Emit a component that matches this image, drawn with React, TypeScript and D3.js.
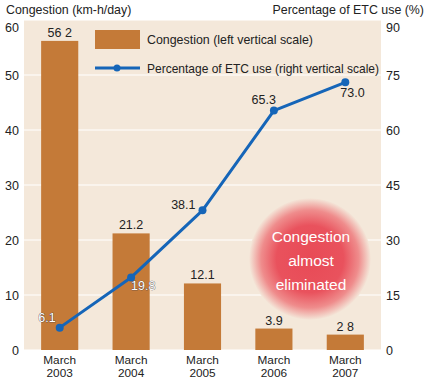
import React from "react";
import * as d3 from "d3";

const categories = ["March\n2003", "March\n2004", "March\n2005", "March\n2006", "March\n2007"];
const congestion = [56.2, 21.2, 12.1, 3.9, 2.8];
const congestionLabels = ["56 2", "21.2", "12.1", "3.9", "2 8"];
const etcUse = [6.1, 19.8, 38.1, 65.3, 73.0];
const etcLabels = ["6.1", "19.8", "38.1", "65.3", "73.0"];
const leftTicks = [0, 10, 20, 30, 40, 50, 60];
const rightTicks = [0, 15, 30, 45, 60, 75, 90];

const W = 428, H = 386;
const L = 24, R = 381, T = 20, B = 350;
const FONT = "'Liberation Sans', Arial, sans-serif";
const BAR = "#c47a38";
const BLUE = "#1565b8";
const BG = "#f4e8da";

// label offsets for ETC labels [dx, dy, anchor, light]
const etcLabelPos: [number, number, string, boolean][] = [
  [-4, -6, "end", true],
  [0, 13, "start", true],
  [-7, -1, "end", false],
  [2, -7, "end", false],
  [-5, 15, "start", false],
];

export default function App() {
  const x = d3.scaleBand<number>().domain(d3.range(categories.length)).range([L, R]).paddingInner(0.48).paddingOuter(0.24);
  const yL = d3.scaleLinear().domain([0, 60]).range([B, T]);
  const yR = d3.scaleLinear().domain([0, 90]).range([B, T]);
  const cx = (i: number) => (x(i) as number) + x.bandwidth() / 2;
  const line = d3.line<number>().x((_, i) => cx(i)).y((d) => yR(d));
  const tickY = (y: number) => Math.max(y, T + 7) + 4.5;

  return (
    <svg width={W} height={H} style={{ position: "absolute", left: 0, top: 0 }} fontFamily={FONT}>
      <defs>
        <radialGradient id="blob" cx="50%" cy="50%" r="50%">
          <stop offset="0%" stopColor="#e84a56" />
          <stop offset="55%" stopColor="#e9525d" />
          <stop offset="80%" stopColor="#ef8c8c" />
          <stop offset="100%" stopColor={BG} />
        </radialGradient>
      </defs>
      <rect x={0} y={0} width={W} height={H} fill="#fff" />
      <rect x={L} y={T} width={R - L} height={B - T} fill={BG} />
      {leftTicks.map((t) => (
        <line key={t} x1={L} x2={R} y1={yL(t)} y2={yL(t)} stroke="#fff" strokeWidth={1.2} />
      ))}
      {leftTicks.map((t) => (
        <text key={t} x={19} y={tickY(yL(t))} textAnchor="end" fontSize={12.5} fill="#222">{t}</text>
      ))}
      {rightTicks.map((t) => (
        <text key={t} x={386} y={tickY(yR(t))} textAnchor="start" fontSize={12.5} fill="#222">{t}</text>
      ))}
      <text x={6} y={14} fontSize={12.4} fill="#222">Congestion (km-h/day)</text>
      <text x={424} y={14} fontSize={12.4} fill="#222" textAnchor="end">Percentage of ETC use (%)</text>
      {/* blob */}
      <circle cx={310} cy={259} r={61} fill="url(#blob)" />
      <text x={311} y={242} textAnchor="middle" fontSize={15.5} fill="#fff">Congestion</text>
      <text x={311} y={266} textAnchor="middle" fontSize={15.5} fill="#fff">almost</text>
      <text x={311} y={290} textAnchor="middle" fontSize={15.5} fill="#fff">eliminated</text>
      {congestion.map((v, i) => (
        <rect key={i} x={x(i)} y={yL(v)} width={x.bandwidth()} height={B - yL(v)} fill={BAR} />
      ))}
      {congestion.map((v, i) => (
        <text key={i} x={cx(i)} y={yL(v) - 4} textAnchor="middle" fontSize={12.5} fill="#222">{congestionLabels[i]}</text>
      ))}
      {categories.map((c, i) => (
        <text key={i} x={cx(i)} textAnchor="middle" fontSize={11.8} fill="#222">
          {c.split("\n").map((s, j) => (
            <tspan key={j} x={cx(i)} y={364 + j * 13}>{s}</tspan>
          ))}
        </text>
      ))}
      <path d={line(etcUse) || ""} fill="none" stroke={BLUE} strokeWidth={3} strokeLinejoin="round" />
      {etcUse.map((v, i) => (
        <circle key={i} cx={cx(i)} cy={yR(v)} r={4} fill={BLUE} />
      ))}
      {etcUse.map((v, i) => {
        const [dx, dy, anchor, light] = etcLabelPos[i];
        return (
          <text key={i} x={cx(i) + dx} y={yR(v) + dy} textAnchor={anchor as any} fontSize={12.5}
            fill={light ? "#fff" : "#222"} stroke={light ? "#334" : "none"} strokeWidth={light ? 0.6 : 0}
            paintOrder="stroke">{etcLabels[i]}</text>
        );
      })}
      {/* legend */}
      <rect x={95} y={30} width={45} height={19} fill={BAR} />
      <text x={147} y={44} fontSize={12.4} fill="#222">Congestion (left vertical scale)</text>
      <line x1={95} x2={140} y1={68} y2={68} stroke={BLUE} strokeWidth={3} />
      <circle cx={117} cy={68} r={3.5} fill={BLUE} />
      <text x={147} y={73} fontSize={12.4} fill="#222" textLength={232} lengthAdjust="spacingAndGlyphs">Percentage of ETC use (right vertical scale)</text>
    </svg>
  );
}
